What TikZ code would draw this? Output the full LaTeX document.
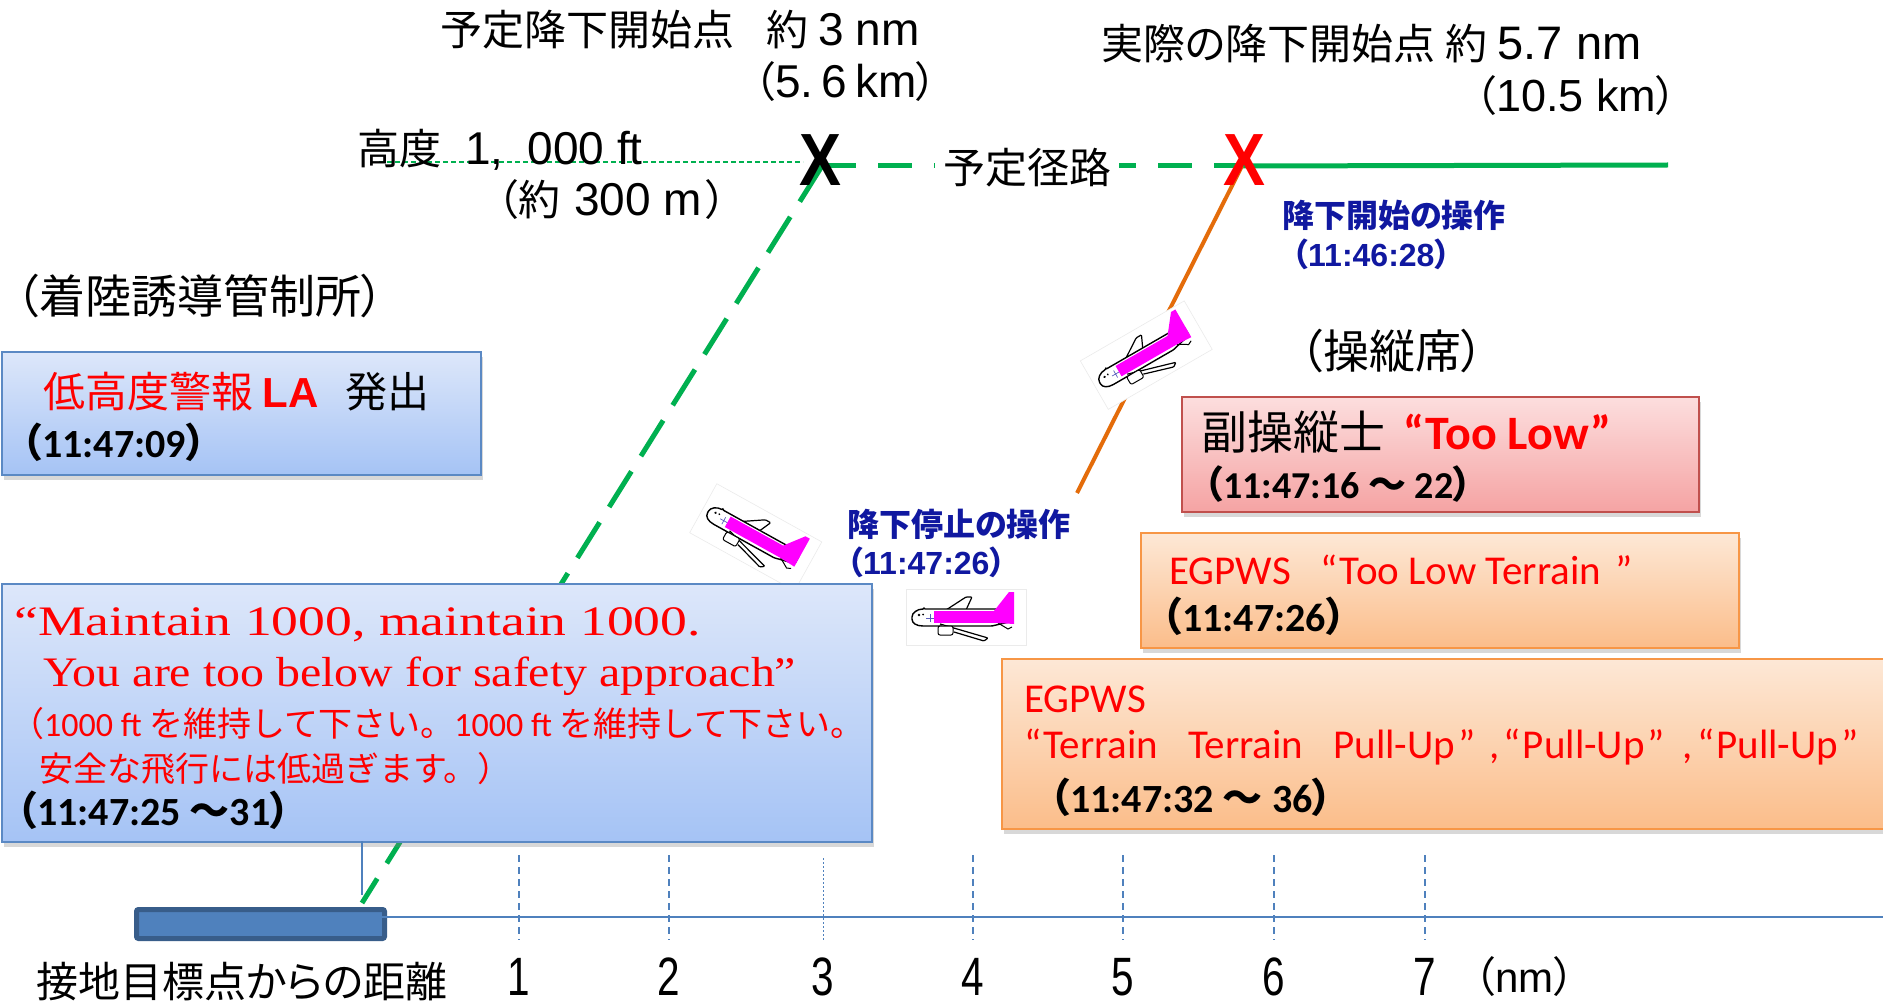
\documentclass[tikz,border=0pt]{standalone}
\usepackage{fontspec}
\setmainfont{Carlito}
\newfontfamily\jp{Noto Sans CJK JP}[RawFeature=+palt]
\newfontfamily\jpf{Noto Sans CJK JP}
\newfontfamily\arialf{Liberation Sans}
\newfontfamily\centuryf{Liberation Serif}[FakeStretch=1.14]
\usetikzlibrary{shadows}
\newcommand\fsz[1]{\fontsize{#1}{#1}\selectfont}

\definecolor{rgreen}{HTML}{00B050}
\definecolor{rorange}{HTML}{E46C0A}
\definecolor{navy}{RGB}{16,24,160}
\definecolor{axisblue}{HTML}{4F81BD}
\definecolor{rwyedge}{HTML}{385D8A}
\definecolor{bluetop}{HTML}{DDE7FA}
\definecolor{bluebot}{HTML}{A5C3F5}
\definecolor{blueedge}{HTML}{5B89C4}
\definecolor{pinktop}{HTML}{FCDEDE}
\definecolor{pinkbot}{HTML}{F5A3A3}
\definecolor{pinkedge}{HTML}{C0504D}
\definecolor{orgtop}{HTML}{FDE8D6}
\definecolor{orgbot}{HTML}{FBBD8A}
\definecolor{orgedge}{HTML}{F79646}
\definecolor{pm}{HTML}{FF00FF}

\tikzset{
  plane/.pic={
    \fill[white] (-6,-29) rectangle (114,27);
    \draw[black!8, line width=0.6pt] (-6,-29) rectangle (114,27);
    % far wing
    \draw[line width=1.2pt, fill=white, rounded corners=1pt] (34,-8) -- (54,-21) -- (60,-21) -- (54,-8);
    % fuselage
    \draw[line width=1.4pt, fill=white, rounded corners=1pt] (12,-9) -- (84,-9) -- (101,-6) -- (101,3) -- (80,8) -- (12,8) .. controls (4,8) and (0,5) .. (0,0) .. controls (0,-5) and (5,-9) .. (12,-9) -- cycle;
    % near wing and engine
    \draw[line width=1.2pt, fill=white, rounded corners=1pt] (28,6) -- (76,20) -- (72,23) -- (42,14);
    \draw[line width=1pt, fill=white, rounded corners=2pt] (26,8) rectangle (41,17);
    \draw[line width=1pt] (86,5) -- (96,11) -- (100,9);
    % livery
    \fill[pm] (22,-7) rectangle (86,5);
    \fill[pm] (82,-7) -- (97,-26) -- (102,-26) -- (102,6) -- (86,5) -- cycle;
    \fill (7,-3) circle (1.3pt) (11,-3.5) circle (1pt);
    \draw[navy!70, line width=0.7pt] (18,-4) -- (18,4) (14,0) -- (22,0);
  },
  card/.style={draw=#1edge, line width=2pt, top color=#1top, bottom color=#1bot,
    anchor=north west, inner sep=0,
    drop shadow={shadow xshift=2pt, shadow yshift=-5pt, opacity=0.3}},
  lbl/.style={inner sep=0, anchor=west},
  bl/.style={inner sep=0, anchor=base west},
  tick/.style={axisblue, line width=1.5pt, dash pattern=on 7pt off 5pt},
}

\begin{document}
\begin{tikzpicture}[x=1pt,y=-1pt]
\useasboundingbox (0,0) rectangle (1883,1008);
\clip (0,0) rectangle (1883,1008);
\fill[white] (0,0) rectangle (1883,1008);

% flight path geometry
\coordinate (v1) at (822,166);
\coordinate (v2) at (1242,166);
\coordinate (td) at (362,903);
\coordinate (oe) at (1077,493);
\coordinate (ge) at (1668,165);
\coordinate (altS) at (379,162);
\coordinate (altE) at (803,162);

\draw[rgreen, line width=1.6pt, dash pattern=on 5pt off 3pt] (altS) -- (altE);
\draw[rgreen, line width=5pt, dash pattern=on 42pt off 18pt] (v1) -- (td);
\draw[rgreen, line width=5pt, dash pattern=on 34pt off 22pt] (v1) -- (v2);
\draw[rgreen, line width=5pt] (v2) -- (ge);
\draw[rorange, line width=4pt] (v2) -- (oe);

% route label over the dashed path
\node[fill=white, inner xsep=8pt, inner ysep=2pt, font=\jp\fsz{42}] (route) at (1027,168) {予定径路};

% descent points
\node[inner sep=0, font=\arialf\bfseries\fsz{74}] (xplan) at (820,160) {\scalebox{0.85}[1]{X}};
\node[inner sep=0, font=\arialf\bfseries\fsz{74}, red] (xreal) at (1244,160) {\scalebox{0.85}[1]{X}};

% aircraft
\pic[rotate=-29] (p1) at (708,512) {plane};
\pic (p2) at (912,618) {plane};
\pic[rotate=30] (p3) at (1100,383) {plane};

% message boxes
\node[card=blue, minimum width=479, minimum height=123] (laBox) at (1,351) {};
\node[card=pink, minimum width=517, minimum height=115] (cpBox) at (1181,396) {};
\node[card=org, minimum width=598, minimum height=115] (egBox) at (1140,532) {};
\node[card=org, minimum width=900, minimum height=170] (puBox) at (1001,658) {};
\node[card=blue, minimum width=870, minimum height=258] (atcBox) at (1,583) {};

% distance axis
\node[draw=rwyedge, line width=5pt, fill=axisblue, rounded corners=2pt, minimum width=248, minimum height=29, anchor=north west, inner sep=0] (rwy) at (134,907) {};
\coordinate (axS) at (348,917);
\coordinate (axE) at (1883,917);
\draw[axisblue, line width=2.5pt] (axS) -- (axE);
\draw[axisblue, line width=1.5pt] (362,841) -- (362,895);
\foreach \i/\x in {1/519,2/669,4/973,5/1123,6/1274,7/1425}{
  \draw[tick] (\x,855) -- (\x,940);
}
\draw[axisblue, line width=0.8pt, dash pattern=on 2pt off 2pt] (823,858) -- (823,940);
\foreach \i/\x in {1/519,2/669,3/823,4/973,5/1123,6/1274,7/1425}{
  \node[inner sep=0, font=\arialf\fsz{54}] (d\i) at (\x,977) {\scalebox{0.75}[1]{\i}};
}
\node[lbl, font=\jp\fsz{42}] (axLbl) at (36,982) {接地目標点からの距離};
\node[lbl, font=\fsz{42}] (unit) at (1474,977) {\jp （\arialf nm\jp ）};

% top labels
\node[lbl, font=\fsz{42}] (planTxt) at (440,30) {\jp 予定降下開始点\hspace{32pt}約\hspace{10pt}\arialf\fsz{46}3\hspace{12pt}nm};
\node[lbl, font=\fsz{42}] (planKm) at (754,82) {\jp （\arialf\fsz{46}5.\hspace{8pt}6\hspace{8pt}km\jp\fsz{42}）};
\node[lbl, font=\fsz{42}] (realTxt) at (1101,44) {\jp 実際の降下開始点\hspace{10pt}約\hspace{10pt}\arialf\fsz{47}5.7 nm};
\node[lbl, font=\fsz{42}] (realKm) at (1475,96) {\jp （\arialf\fsz{45}10.5 km\jp\fsz{42}）};
\node[lbl, font=\fsz{42}] (altTxt) at (357,150) {\jp 高度\hspace{24pt}\arialf\fsz{46}1,\hspace{24pt}000 ft};
\node[lbl, font=\fsz{42}] (altM) at (497,200) {\jp （約\hspace{14pt}\arialf\fsz{46}300 m\jp\fsz{42}\hspace{4pt}）};

% crew actions
\node[lbl, font=\jp\bfseries\fsz{32}, navy] (startOp) at (1282,215) {降下開始の操作};
\node[lbl, font=\fsz{32}\bfseries, navy] (startT) at (1292,254) {\jp （\arialf 11:46:28\jp ）};
\node[lbl, font=\jp\bfseries\fsz{32}, navy] (stopOp) at (847,524) {降下停止の操作};
\node[lbl, font=\fsz{32}\bfseries, navy] (stopT) at (847,562) {\jp （\arialf 11:47:26\jp ）};

% section headings
\node[lbl, font=\jp\fsz{46}] (atcHead) at (16,296) {（着陸誘導管制所）};
\node[lbl, font=\jp\fsz{46}] (cockHead) at (1300,351) {（操縦席）};

% low altitude alert
\node[lbl, font=\fsz{42}] (laTxt) at (43,392) {\color{red}\jp 低高度警報 \arialf\bfseries LA\hspace{27pt}\color{black}\mdseries\jp 発出};
\node[lbl, font=\fsz{40}\bfseries] (laT) at (22,442) {\jp （\rmfamily 11:47:09\jp ）};

% first officer call-out
\node[lbl, font=\fsz{46}] (foTxt) at (1201,432) {\jp 副操縦士\hspace{18pt}\color{red}\rmfamily\bfseries\fsz{48}“Too Low”};
\node[lbl, font=\fsz{38}\bfseries] (foT) at (1204,484) {\jp （\rmfamily 11:47:16 \jp 〜\rmfamily\ 22\jp ）};

% EGPWS warnings
\node[lbl, font=\rmfamily\fsz{41}, red] (egTxt) at (1169,570) {EGPWS\hspace{30pt}“Too Low Terrain\hspace{14pt}”};
\node[lbl, font=\fsz{40}\bfseries] (egT) at (1162,616) {\jp （\rmfamily 11:47:26\jp ）};
\node[lbl, font=\rmfamily\fsz{41}, red] (puHead) at (1024,699) {EGPWS};
\node[lbl, font=\rmfamily\fsz{41}, red] (puTxt) at (1024,747) {“\hspace{2pt}Terrain\hspace{30pt}Terrain\hspace{30pt}Pull-Up\hspace{3pt}”\hspace{14pt},\hspace{4pt}“\hspace{2pt}Pull-Up\hspace{3pt}”\hspace{18pt},\hspace{4pt}“\hspace{2pt}Pull-Up\hspace{3pt}”};
\node[lbl, font=\fsz{40}\bfseries] (puT) at (1050,797) {\jp （\rmfamily 11:47:32 \jp 〜\rmfamily\ 36\jp ）};

% controller instruction
\node[bl, font=\centuryf\fsz{42}, red] (atc1) at (14,635) {\scalebox{1.12}[1]{“Maintain 1000, maintain 1000.}};
\node[bl, font=\centuryf\fsz{42}, red] (atc2) at (43,686) {You are too below for safety approach”};
\node[lbl, font=\fsz{34}, red] (atc3) at (10,724) {\jpf （\rmfamily 1000 ft \jpf を維持して下さい。\rmfamily 1000 ft \jpf を維持して下さい。};
\node[lbl, font=\jpf\fsz{34}, red] (atc4) at (39,769) {安全な飛行には低過ぎます。）};
\node[lbl, font=\fsz{40}\bfseries] (atcT) at (17,810) {\jp （\rmfamily 11:47:25 \jp 〜\rmfamily 31\jp ）};
\end{tikzpicture}
\end{document}
